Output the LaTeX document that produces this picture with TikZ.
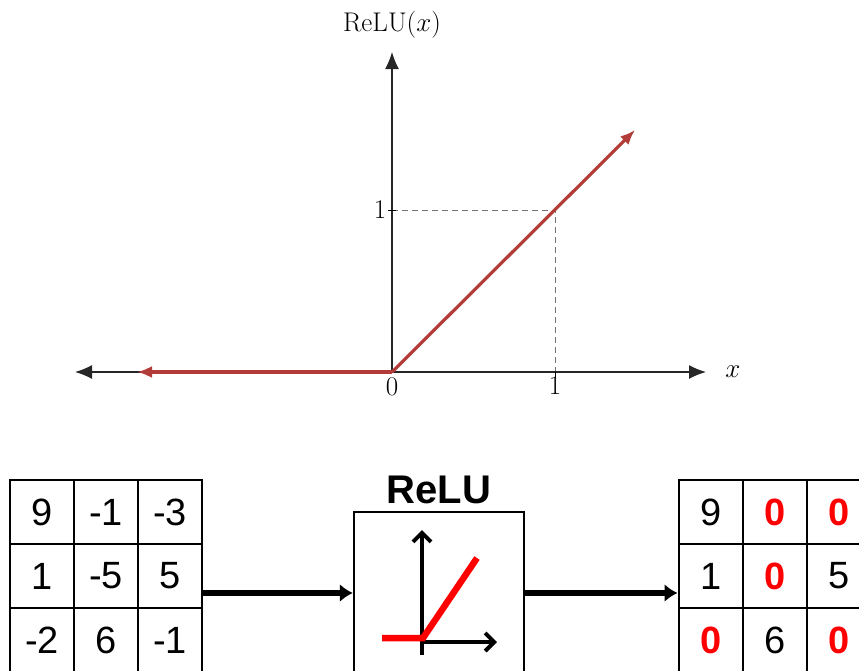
\RequirePackage{fix-cm}
\documentclass[tikz,border=0pt]{standalone}
\usepackage{fontspec}
\newfontfamily\gridfont{Liberation Sans}
\usepackage{tikz}
\usetikzlibrary{positioning, arrows.meta, calc}
\definecolor{relured}{RGB}{178,60,56}

\begin{document}
\begin{tikzpicture}[
    x=1pt, y=-1pt,
    axisline/.style={
        {Latex[length=17pt,width=14pt]}-{Latex[length=17pt,width=14pt]},
        line width=1.3pt,
        draw=black!85
    },
    guide/.style={draw=black!55, line width=0.9pt, dash pattern=on 6pt off 4pt},
    relucurve/.style={line width=3.2pt, draw=relured},
    ticklabel/.style={font=\fontsize{27}{32}\selectfont, inner sep=0pt},
    cell/.style={
        rectangle,
        draw=black,
        line width=2.8pt,
        minimum size=64pt,
        inner sep=0pt,
        font=\gridfont\fontsize{38}{44}\selectfont
    },
    zerocell/.style={cell, text=red, font=\gridfont\bfseries\fontsize{38}{44}\selectfont},
    flowarrow/.style={-{Latex[length=13pt,width=18pt]}, line width=6.5pt, draw=black},
    iconaxis/.style={-{Straight Barb[length=9pt,width=18pt,line width=4pt]}, line width=4pt, draw=black}
]
\useasboundingbox (0,0) rectangle (859,670);

% the function plot
\coordinate (origin) at (392,372);
\coordinate (xleft) at (75,372);
\coordinate (xright) at (706,372);
\coordinate (ytop) at (392,52);
\coordinate (oneone) at (555,210);

\draw[guide] (origin |- oneone) -- (oneone) -- (oneone |- origin);
\draw[axisline] (xleft) -- (xright);
\draw[-{Latex[length=17pt,width=14pt]}, line width=1.3pt, draw=black!85] (origin) -- (ytop);
\draw[line width=1pt] ($(origin |- oneone)+(-4,0)$) -- ++(8,0);
\draw[line width=1pt] (oneone |- origin) -- ++(0,6);

\draw[relucurve, -{Latex[length=15pt,width=12pt]}] (origin) -- (137,372);
\draw[relucurve, -{Latex[length=15pt,width=12pt]}] (origin) -- (635,130);

\node[ticklabel] (ylabel) at (392,25) {$\mathrm{ReLU}(x)$};
\node[ticklabel] (xlabel) at (733,372) {$x$};
\node[ticklabel] (zero) at (392,387) {$0$};
\node[ticklabel] (xone) at (555,386) {$1$};
\node[ticklabel] (yone) at (380,210) {$1$};

% input matrix
\foreach \r/\c/\v in {1/1/9, 1/2/-1, 1/3/-3, 2/1/1, 2/2/-5, 2/3/5, 3/1/-2, 3/2/6, 3/3/-1}
    \node[cell] (in-\r-\c) at ({10+64*\c-32}, {480+64*\r-32}) {\v};

% output matrix
\foreach \r/\c/\v/\s in {1/1/9/cell, 1/2/0/zerocell, 1/3/0/zerocell,
                         2/1/1/cell, 2/2/0/zerocell, 2/3/5/cell,
                         3/1/0/zerocell, 3/2/6/cell, 3/3/0/zerocell}
    \node[\s] (out-\r-\c) at ({679+64*\c-32}, {480+64*\r-32}) {\v};

% relu block
\node[draw=black, line width=2.2pt, minimum width=170pt, minimum height=162pt] (relubox) at (439,593) {};
\node[font=\gridfont\bfseries\fontsize{40}{46}\selectfont, inner sep=0pt] (relutitle) at (439,490) {ReLU};

\coordinate (icon) at (relubox.center);
\draw[iconaxis] ($(icon)+(-17,62)$) -- ($(icon)+(-17,-63)$);
\draw[iconaxis] ($(icon)+(-19,49)$) -- ($(icon)+(58,49)$);
\draw[line width=6.5pt, draw=red] ($(icon)+(-57,45)$) -- ($(icon)+(-16,45)$) -- ($(icon)+(38,-35)$);

\draw[flowarrow] (in-2-3.east |- relubox.west) -- (relubox.west);
\draw[flowarrow] (relubox.east) -- (relubox.east -| out-2-1.west);

\end{tikzpicture}
\end{document}
